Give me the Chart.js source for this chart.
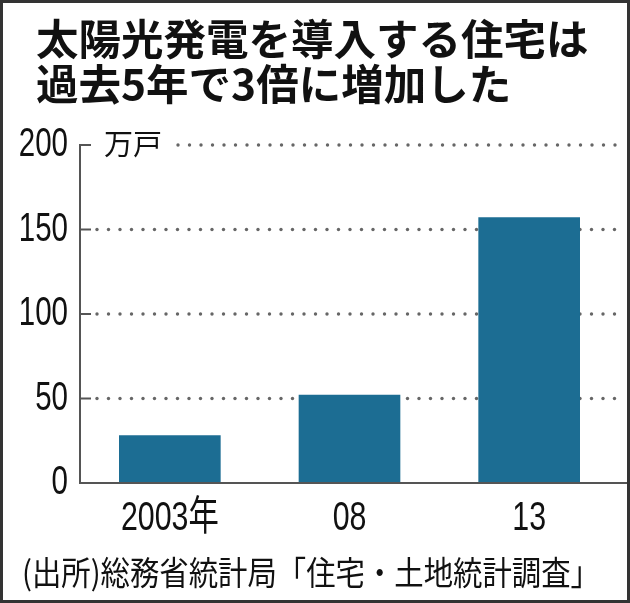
<!DOCTYPE html>
<html>
<head>
<meta charset="utf-8">
<script src="https://cdn.jsdelivr.net/npm/chart.js@4.4.1/dist/chart.umd.min.js"></script>
<style>
  body { margin: 0; background: #fff; }
  canvas { display: block; }
</style>
</head>
<body>
<canvas id="myChart" width="630" height="603"></canvas>
<script>
// data
const years = ["2003年", "08", "13"];
const houses = [28, 52, 157];   // 万戸
const yTicks = [0, 50, 100, 150, 200];
const titleLines = ["太陽光発電を導入する住宅は", "過去5年で3倍に増加した"];
const unitLabel = "万戸";
const sourceText = "(出所)総務省統計局「住宅・土地統計調査」";

const jp = '"Noto Sans CJK JP", "Noto Sans", sans-serif';
const num = '"Liberation Sans", "Noto Sans CJK JP", sans-serif';

// condensed text, like the newspaper font
function squeezed(ctx, text, x, y, sx, align) {
    const w = ctx.measureText(text).width * sx;
    let left = x;
    if (align === 'right') left = x - w;
    if (align === 'center') left = x - w / 2;
    ctx.save();
    ctx.translate(left, y);
    ctx.scale(sx, 1);
    ctx.textAlign = 'left';
    ctx.fillText(text, 0, 0);
    ctx.restore();
}

// texts, frame, dotted grid
const extras = {
    id: 'extras',
    beforeDatasetsDraw(chart) {
        const ctx = chart.ctx;
        const y = chart.scales.y;
        const area = chart.chartArea;
        ctx.save();
        yTicks.forEach((v) => {
            if (v === 0) return;
            const py = y.getPixelForValue(v);
            // tick mark
            ctx.strokeStyle = '#555';
            ctx.lineWidth = 2;
            ctx.beginPath();
            ctx.moveTo(area.left, py);
            ctx.lineTo(area.left + 11, py);
            ctx.stroke();
            // dots
            ctx.fillStyle = '#666';
            let x = v === 200 ? 178 : 97;
            while (x <= 618) {
                ctx.beginPath();
                ctx.arc(x, py, 1.7, 0, Math.PI * 2);
                ctx.fill();
                x += 11.5;
            }
        });
        ctx.restore();
    },
    afterDraw(chart) {
        const ctx = chart.ctx;
        const y = chart.scales.y;
        const xs = chart.scales.x;
        const area = chart.chartArea;
        ctx.save();
        // x axis line to the frame
        ctx.strokeStyle = '#555';
        ctx.lineWidth = 2;
        ctx.beginPath();
        ctx.moveTo(area.left - 1, area.bottom);
        ctx.lineTo(chart.width, area.bottom);
        ctx.stroke();

        ctx.fillStyle = '#111';
        ctx.textBaseline = 'middle';
        ctx.textAlign = 'left';
        ctx.font = 'bold 42.5px ' + jp;
        ctx.fillText(titleLines[0], 36, 39);
        ctx.fillText(titleLines[1], 36, 84);

        // y tick labels
        ctx.font = '41px ' + num;
        yTicks.forEach((v) => {
            squeezed(ctx, String(v), 68, y.getPixelForValue(v), 0.72, 'right');
        });
        // x tick labels
        years.forEach((lab, i) => {
            squeezed(ctx, lab, xs.getPixelForValue(i), 519, 0.74, 'center');
        });

        ctx.font = '29px ' + jp;
        ctx.fillText(unitLabel, 104, y.getPixelForValue(200) - 1);

        // source line squeezed to its width in the picture
        ctx.font = '33px ' + jp;
        const sw = ctx.measureText(sourceText).width;
        squeezed(ctx, sourceText, 22, 572, 578 / sw, 'left');

        // frame
        ctx.strokeStyle = '#333';
        ctx.lineWidth = 3;
        ctx.strokeRect(1.5, 1.5, chart.width - 3, chart.height - 3);
        ctx.restore();
    }
};

new Chart(document.getElementById('myChart'), {
    type: 'bar',
    data: {
        labels: years,
        datasets: [{
            data: houses,
            backgroundColor: '#1c6d93',
            borderWidth: 0,
            barThickness: 101,
        }]
    },
    options: {
        responsive: false,
        animation: false,
        devicePixelRatio: 1,
        layout: { padding: { top: 145, left: 0, right: 11, bottom: 63 } },
        plugins: {
            legend: { display: false },
            tooltip: { enabled: false }
        },
        scales: {
            x: {
                grid: { display: false, drawTicks: false },
                border: { display: false },
                ticks: { display: false },
                afterFit(scale) { scale.height = 57; }
            },
            y: {
                min: 0,
                max: 200,
                afterBuildTicks(scale) { scale.ticks = yTicks.map(v => ({ value: v })); },
                grid: { display: false, drawTicks: false },
                border: { display: true, color: '#555', width: 2 },
                ticks: { display: false },
                afterFit(scale) { scale.width = 80; }
            }
        }
    },
    plugins: [extras]
});
</script>
</body>
</html>
